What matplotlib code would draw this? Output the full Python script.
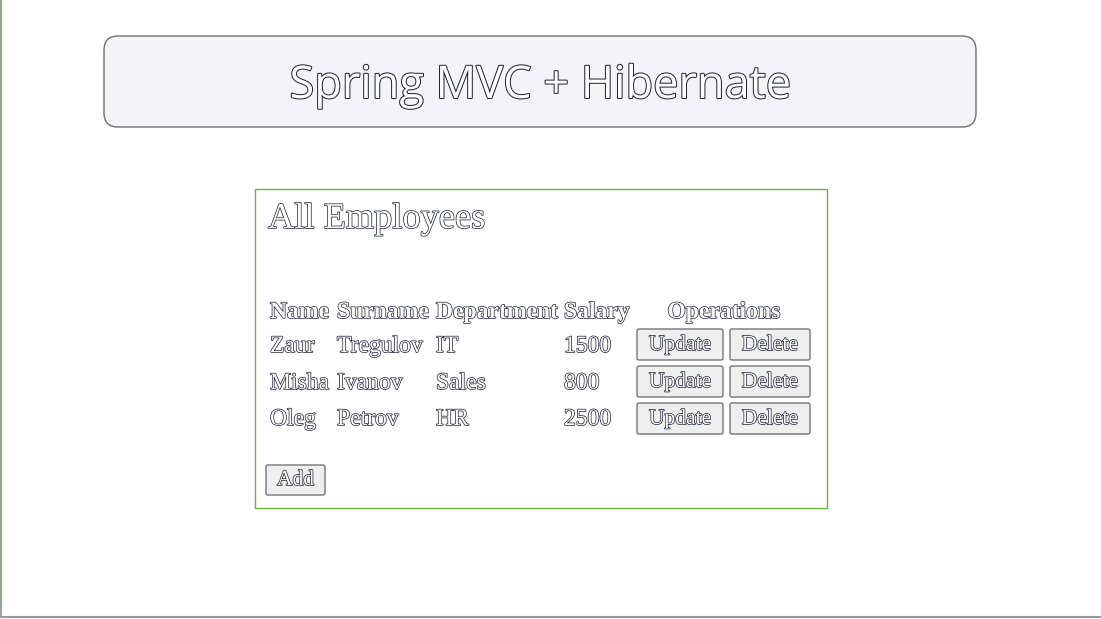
import matplotlib
matplotlib.use('Agg')
from matplotlib import pyplot as plt
from matplotlib import patches
from matplotlib import patheffects as pe

title = 'Spring MVC + Hibernate'
subtitle = 'All Employees'
headers = ['Name', 'Surname', 'Department', 'Salary', 'Operations']
names = ['Zaur', 'Misha', 'Oleg']
surnames = ['Tregulov', 'Ivanov', 'Petrov']
departments = ['IT', 'Sales', 'HR']
salaries = [1500, 800, 2500]
buttons = ['Update', 'Delete']

W, H = 1101, 619
fig = plt.figure(figsize=(W / 100, H / 100), dpi=100)
ax = fig.add_axes([0, 0, 1, 1])
ax.set_xlim(0, W)
ax.set_ylim(H, 0)
ax.axis('off')

serif = 'Liberation Serif'


def hollow(x, y, s, size, family=serif, weight='normal', ha='left', lw=1.0):
    # white glyphs with a thin dark rim, like the screenshot
    ax.text(x, y, s, fontsize=size, family=family, weight=weight, ha=ha,
            va='baseline', color='white',
            path_effects=[pe.withStroke(linewidth=lw, foreground='#1c1c30')])


def button(x0, x1, y0, y1, label):
    ax.add_patch(patches.FancyBboxPatch((x0, y0), x1 - x0, y1 - y0,
                                        boxstyle='round,pad=0,rounding_size=2',
                                        facecolor='#efeff0', edgecolor='#767676', lw=1))
    hollow((x0 + x1) / 2, y1 - 10, label, 15.5, ha='center')


# page edges
ax.plot([1, 1], [0, 617], color='#9aa59a', lw=1.5)
ax.plot([0, W], [617, 617], color='#9a9aa0', lw=1.5)

# header
ax.add_patch(patches.FancyBboxPatch((104, 36), 872, 91,
                                    boxstyle='round,pad=0,rounding_size=14',
                                    facecolor='#f4f3f7', edgecolor='#707070', lw=1))
hollow(540, 98, title, 32.5, family='Open Sans', ha='center', lw=1.4)

# employees panel
ax.add_patch(patches.Rectangle((254.5, 188.5), 572, 319, fill=False,
                               edgecolor='#72b03c', lw=1))
hollow(268, 228, subtitle, 26.2)

col_x = [270, 337, 436, 564]
for x, h in zip(col_x, headers[:4]):
    hollow(x, 318, h, 17, weight='bold')
hollow(724, 318, headers[4], 17, weight='bold', ha='center')

row_base = [352, 389, 425]
for i in range(len(names)):
    y = row_base[i]
    hollow(col_x[0], y, names[i], 17)
    hollow(col_x[1], y, surnames[i], 17)
    hollow(col_x[2], y, departments[i], 17)
    hollow(col_x[3], y, str(salaries[i]), 17)
    top = 329 + i * 37
    button(637, 723, top, top + 31, buttons[0])
    button(730, 810, top, top + 31, buttons[1])

button(266, 325, 465, 495, 'Add')

fig.savefig('out.png', dpi=100, facecolor='white')
